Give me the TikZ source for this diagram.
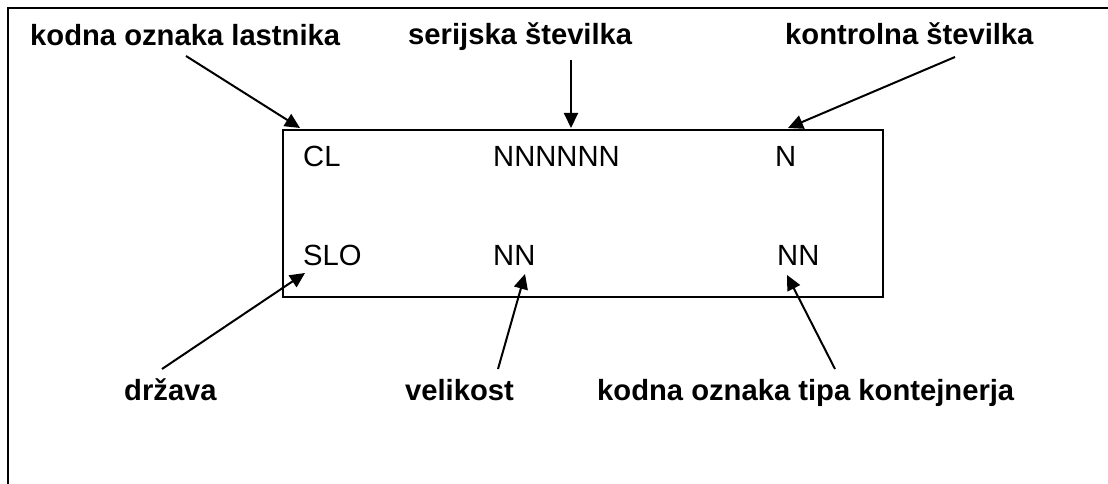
\documentclass[tikz,border=0pt]{standalone}
\usepackage{fontspec}
\setmainfont{Liberation Sans}
\usetikzlibrary{arrows.meta}
\begin{document}
\begin{tikzpicture}[x=1pt,y=-1pt,
  lbl/.style={font=\fontsize{29.2}{33}\selectfont\bfseries, inner sep=0pt, anchor=base west},
  code/.style={font=\fontsize{29.2}{33}\selectfont, inner sep=0pt, anchor=base west},
  ptr/.style={line width=2pt, -{Triangle[length=15pt,width=14pt]}},
  frameline/.style={line width=2pt}]
\useasboundingbox (0,0) rectangle (1108,484);
\draw[frameline] (8,484) -- (8,8) -- (1108,8);
\node[draw, line width=2pt, minimum width=600pt, minimum height=167pt, anchor=north west, inner sep=0pt] (box) at (282,129) {};
% labels
\node[lbl] (lastnik) at (30,46) {kodna oznaka lastnika};
\node[lbl] (serijska) at (408,45) {serijska številka};
\node[lbl] (kontrolna) at (785,45) {kontrolna številka};
\node[lbl] (drzava) at (124,400) {država};
\node[lbl, anchor=base east] (velikost) at (514,400) {velikost};
\node[lbl] (tip) at (597,400) {kodna oznaka tipa kontejnerja};
% codes
\node[code] (cl) at (303,167) {CL};
\node[code] (ser) at (493,167) {NNNNNN};
\node[code] (kon) at (775,167) {N};
\node[code] (slo) at (303,265) {SLO};
\node[code] (vel) at (493,265) {NN};
\node[code] (tnn) at (777,265) {NN};
% free ends
\coordinate (a1) at (186,56);
\coordinate (b1) at (300,128);
\coordinate (a2) at (571,60);
\coordinate (b2) at (571,128);
\coordinate (a3) at (955,57);
\coordinate (b3) at (788,128);
\coordinate (a4) at (162,369);
\coordinate (b4) at (305,273);
\coordinate (a5) at (498,369);
\coordinate (b5) at (525,274);
\coordinate (a6) at (835,369);
\coordinate (b6) at (787,275);
\draw[ptr] (a1) -- (b1);
\draw[ptr] (a2) -- (b2);
\draw[ptr] (a3) -- (b3);
\draw[ptr] (a4) -- (b4);
\draw[ptr] (a5) -- (b5);
\draw[ptr] (a6) -- (b6);
\end{tikzpicture}
\end{document}
